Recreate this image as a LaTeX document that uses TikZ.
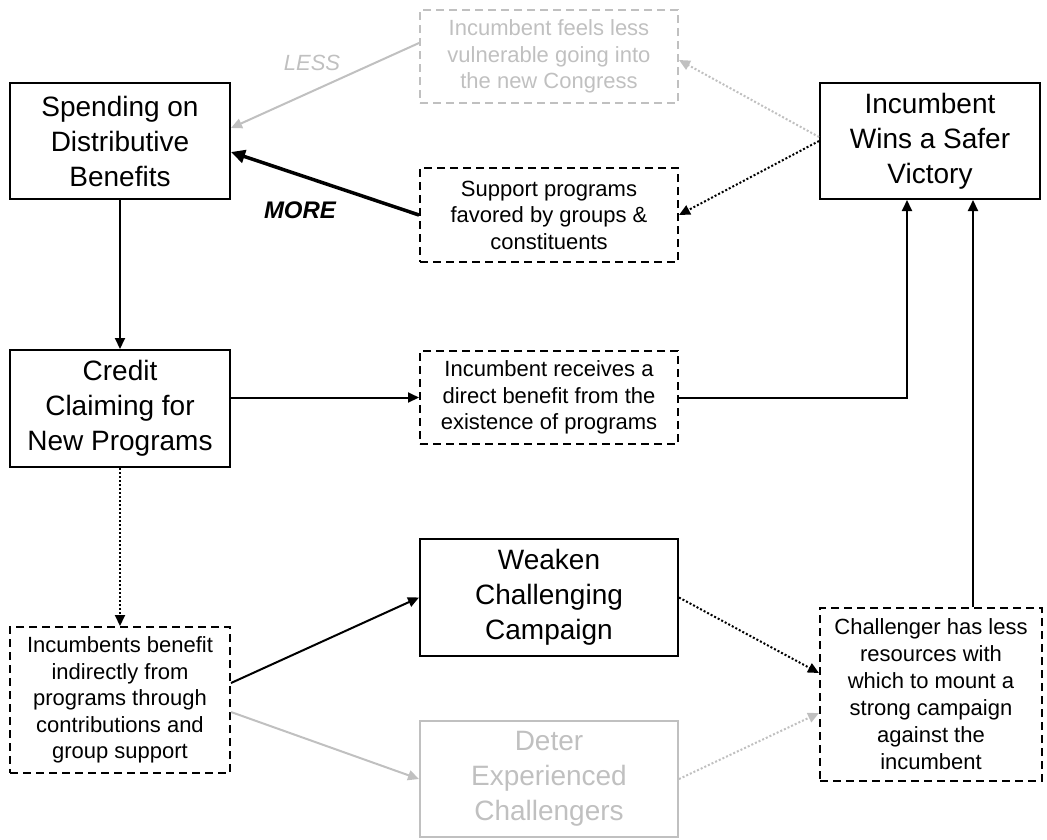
\documentclass[tikz,border=0pt]{standalone}
\usepackage{fontspec}
\setmainfont{Liberation Sans}
\usetikzlibrary{arrows.meta}
\definecolor{lgray}{RGB}{192,192,192}
\begin{document}
\begin{tikzpicture}[x=1pt,y=-1pt,
  big/.style={draw,line width=2pt,inner sep=0pt,align=center,font=\fontsize{28}{35}\selectfont},
  small/.style={draw,line width=2pt,dash pattern=on 8pt off 5pt,inner sep=0pt,align=center,font=\fontsize{22}{26.5}\selectfont},
  conn/.style={line width=2pt,-{Triangle[length=11pt,width=10pt]}},
  dotconn/.style={conn,dash pattern=on 2pt off 2pt},
  grayed/.style={draw=lgray,text=lgray,lgray}]
\useasboundingbox (0,0) rectangle (1047,839);
\node[big,minimum width=220pt,minimum height=116pt] (spend) at (120,141) {Spending on\\Distributive\\Benefits};
\node[big,minimum width=220pt,minimum height=117pt] (credit) at (120,408.5) {Credit\\Claiming for\\New Programs};
\node[small,minimum width=220pt,minimum height=146pt] (incb) at (120,700) {Incumbents benefit\\indirectly from\\programs through\\contributions and\\group support};
\node[big,minimum width=258pt,minimum height=117pt] (weaken) at (549,597.5) {Weaken\\Challenging\\Campaign};
\node[big,grayed,minimum width=258pt,minimum height=116pt] (deter) at (549,779) {Deter\\Experienced\\Challengers};
\node[small,minimum width=258pt,minimum height=93pt] (direct) at (549,397.5) {Incumbent receives a\\direct benefit from the\\existence of programs};
\node[small,minimum width=258pt,minimum height=94pt] (support) at (549,215) {Support programs\\favored by groups \&\\constituents};
\node[small,grayed,minimum width=258pt,minimum height=93pt] (feels) at (549,56.5) {Incumbent feels less\\vulnerable going into\\the new Congress};
\node[big,minimum width=220pt,minimum height=116pt] (wins) at (930,141) {Incumbent\\Wins a Safer\\Victory};
\node[small,minimum width=222pt,minimum height=173pt,font=\fontsize{22}{27}\selectfont] (chall) at (931,694.5) {Challenger has less\\resources with\\which to mount a\\strong campaign\\against the\\incumbent};
\node[text=lgray,font=\fontsize{22}{26}\selectfont\itshape] (less) at (312,63) {LESS};
\node[font=\fontsize{24}{28}\selectfont\bfseries\itshape] (more) at (300,210) {MORE};
% connectors
\draw[conn] (spend.south) -- (credit.north);
\draw[conn] (credit.east |- direct.west) -- (direct.west);
\draw[conn] (direct.east) -| ([xshift=-23pt]wins.south);
\draw[conn] ([xshift=42pt]chall.north) -- ([xshift=43pt]wins.south);
\draw[dotconn] (credit.south) -- (incb.north);
\draw[conn] ([yshift=17pt]incb.east) -- (weaken.west);
\draw[conn,lgray] ([yshift=-12pt]incb.east) -- (deter.west);
\draw[dotconn] (weaken.east) -- ([yshift=21.5pt]chall.west);
\draw[dotconn,lgray] (deter.east) -- ([yshift=-18.5pt]chall.west);
\draw[dotconn] (wins.west) -- (support.east);
\draw[dotconn,lgray] ([yshift=4pt]wins.west) -- ([yshift=-3.5pt]feels.east);
\draw[conn,lgray] ([yshift=13.5pt]feels.west) -- ([yshift=13pt]spend.east);
\draw[line width=3.5pt,-{Triangle[length=14pt,width=13pt]}] (support.west) -- ([yshift=-11pt]spend.east);
\end{tikzpicture}
\end{document}
